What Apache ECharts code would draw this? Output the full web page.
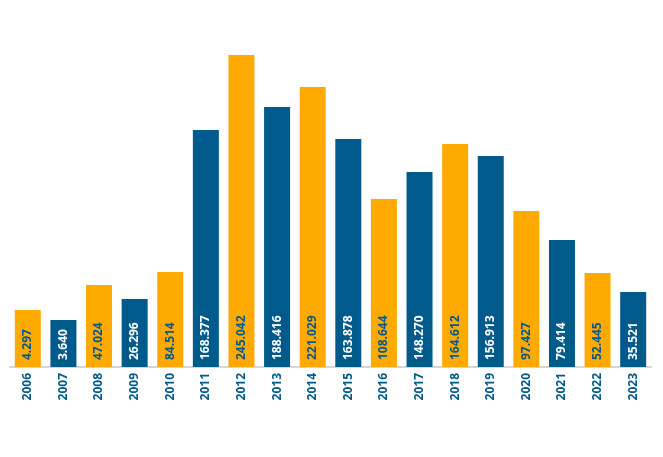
<!DOCTYPE html>
<html>
<head>
<meta charset="utf-8">
<script src="https://cdn.jsdelivr.net/npm/echarts@6/dist/echarts.min.js"></script>
<style>
html,body{margin:0;padding:0;background:#fff;}
#main{width:663px;height:457px;}
</style>
</head>
<body>
<div id="main"></div>
<script>
var years = ['2006','2007','2008','2009','2010','2011','2012','2013','2014','2015','2016','2017','2018','2019','2020','2021','2022','2023'];
// bar heights
var heights = [57,47,82,68,95,237,312,260,280,228,168,195,223,211,156,127,94,75];
// value texts printed inside the bars
var labels = ['4.297','3.640','47.024','26.296','84.514','168.377','245.042','188.416','221.029','163.878','108.644','148.270','164.612','156.913','97.427','79.414','52.445','35.521'];

var orange = '#FFAA00';
var blue = '#005A8C';

var arr = [];
for (var i = 0; i < heights.length; i++) {
    var isOrange = i % 2 === 0;
    arr.push({
        value: heights[i],
        itemStyle: {color: isOrange ? orange : blue},
        label: {color: isOrange ? blue : '#ffffff', formatter: labels[i]}
    });
}

var myChart = echarts.init(document.getElementById('main'));
var option = {
    animation: false,
    grid: {left: 10, right: 12, top: 55, bottom: 90, containLabel: false},
    xAxis: {
        type: 'category',
        data: years,
        axisTick: {show: false},
        axisLine: {lineStyle: {color: '#d6d6d6', width: 2}},
        axisLabel: {
            rotate: 90,
            color: blue,
            fontFamily: 'Open Sans',
            fontWeight: 'bold',
            fontSize: 12,
            margin: 6
        }
    },
    yAxis: {
        type: 'value',
        min: 0,
        max: 312,
        show: false,
        splitLine: {show: false}
    },
    series: [{
        type: 'bar',
        data: arr,
        barCategoryGap: '27%',
        label: {
            show: true,
            position: 'insideBottom',
            rotate: 90,
            align: 'left',
            verticalAlign: 'middle',
            distance: 7,
            fontFamily: 'Open Sans',
            fontWeight: 'bold',
            fontSize: 12
        }
    }]
};
myChart.setOption(option);
</script>
</body>
</html>
